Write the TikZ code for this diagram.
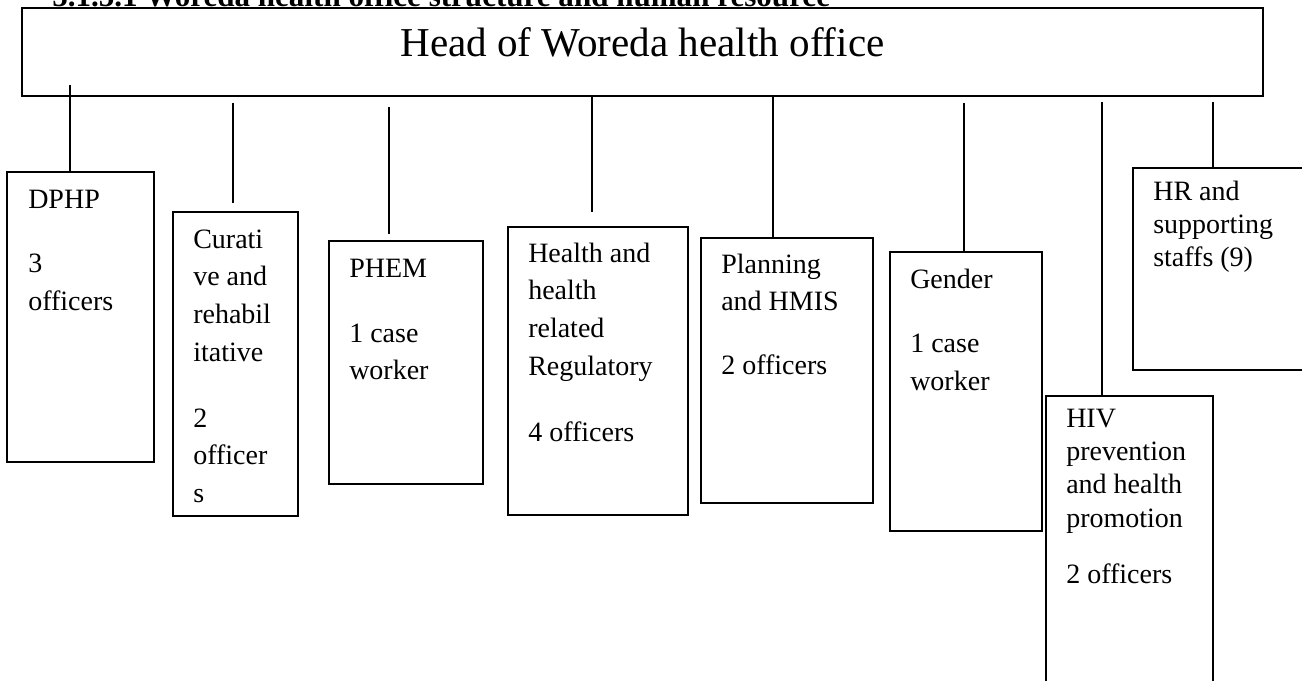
\documentclass[tikz,border=0pt]{standalone}
\usepackage{fontspec}
\setmainfont{Liberation Serif}
\newcommand\firstl{\rule{0pt}{20pt}}
\begin{document}
\begin{tikzpicture}[x=0.75pt,y=-0.75pt,
  box/.style 2 args={draw, line width=1.1pt, anchor=north west, inner sep=0pt, outer sep=0pt,
    minimum width=#1*0.75pt, minimum height=#2*0.75pt},
  lbl/.style={anchor=north west, inner sep=0pt, align=left, font=\fontsize{21}{28.2}\selectfont},
  lblb/.style={lbl, font=\fontsize{21}{25}\selectfont},
  conn/.style={line width=0.9pt}]
\useasboundingbox (0,0) rectangle (1302,681);
\clip (0,0) rectangle (1302,681);

% title (cut off at the top)
\node[anchor=base west, inner sep=0pt, font=\fontsize{23.3}{28}\selectfont\bfseries] (title) at (52,6.5)
  {5.1.5.1 Woreda health office structure and human resource};

% head box
\node[box={1241}{88}] (head) at (22,8) {};
\node[anchor=base, inner sep=0pt, font=\fontsize{30.8}{36}\selectfont] (headtxt) at (642.5,57) {Head of Woreda health office};

% unit boxes
\node[box={147}{290}] (dphp) at (7,172) {};
\node[box={125}{304}] (cur)  at (173,212) {};
\node[box={154}{243}] (phem) at (329,241) {};
\node[box={180}{288}] (reg)  at (508,227) {};
\node[box={172}{265}] (plan) at (701,238) {};
\node[box={152}{279}] (gen)  at (890,252) {};
\node[box={167}{310}] (hiv)  at (1046,396) {};
\node[box={190}{202}] (hr)   at (1133,168) {};

% labels
\node[lbl] (dphpt) at (28,181.3) {\firstl DPHP\\[20.3pt]3\\officers};
\node[lbl] (curt)  at (193,221.3) {\firstl Curati\\ve and\\rehabil\\itative\\[21.4pt]2\\officer\\s};
\node[lbl] (phemt) at (349,250.3) {\firstl PHEM\\[20.6pt]1 case\\worker};
\node[lbl] (regt)  at (528,235.3) {\firstl Health and\\health\\related\\Regulatory\\[21.4pt]4 officers};
\node[lbl] (plant) at (721,246.3) {\firstl Planning\\and HMIS\\[19.5pt]2 officers};
\node[lbl] (gent)  at (910,261.3) {\firstl Gender\\[20.3pt]1 case\\worker};
\node[lblb] (hivt) at (1066,400.3) {\firstl HIV\\prevention\\and health\\promotion\\[16.9pt]2 officers};
\node[lblb] (hrt)  at (1153,173.3) {\firstl HR and\\supporting\\staffs (9)};

% connectors
\coordinate (t1) at (70,85);
\coordinate (t2) at (233,103);
\coordinate (t3) at (389,107);
\coordinate (t4) at (592,96);
\coordinate (t5) at (773,96);
\coordinate (t6) at (964,103);
\coordinate (t7) at (1102,102);
\coordinate (t8) at (1213,102);
\draw[conn] (t1) -- (t1 |- dphp.north);
\draw[conn, shorten >=6.75pt] (t2) -- (t2 |- cur.north);
\draw[conn, shorten >=5.25pt] (t3) -- (t3 |- phem.north);
\draw[conn, shorten >=11.25pt] (t4) -- (t4 |- reg.north);
\draw[conn] (t5) -- (t5 |- plan.north);
\draw[conn] (t6) -- (t6 |- gen.north);
\draw[conn] (t7) -- (t7 |- hiv.north);
\draw[conn] (t8) -- (t8 |- hr.north);
\end{tikzpicture}
\end{document}
